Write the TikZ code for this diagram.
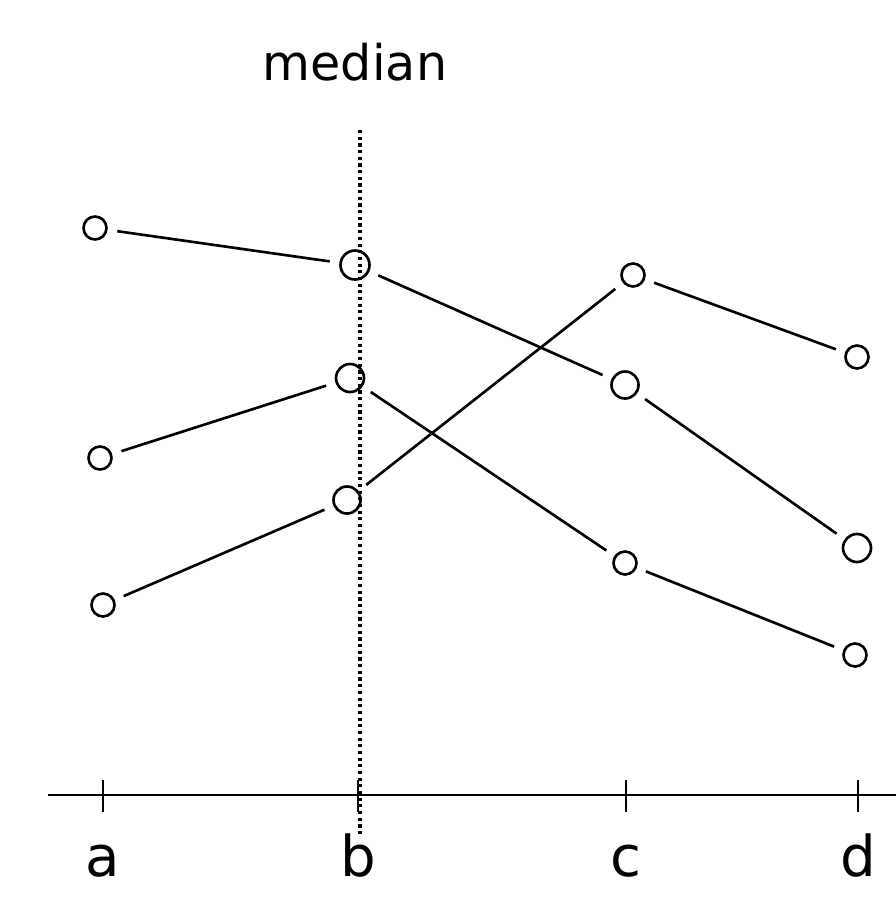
\documentclass[tikz,border=0pt]{standalone}
\usepackage{fontspec}
\setmainfont{DejaVu Sans}
\usetikzlibrary{positioning}

\begin{document}
\begin{tikzpicture}[x=0.02cm,y=-0.02cm,line width=1.5pt,
  pt/.style={draw,circle,inner sep=0pt,minimum size=0.46cm,outer sep=0.22cm},
  tick/.style={font=\fontsize{32}{34}\selectfont}]
\useasboundingbox (0,0) rectangle (896,920);
% axis with ticks
\coordinate (axl) at (48,795);
\coordinate (axr) at (896,795);
\draw (axl) -- (axr);
\foreach \x/\l in {103/a,358/b,626/c,858/d}{
  \draw (\x,780) -- (\x,812);
  \node[tick,anchor=base] (lab\l) at (\x,876) {\l};
}
% median line
\coordinate (mtop) at (360,130);
\coordinate (mbot) at (360,835);
\draw[dotted,line width=1.8pt] (mtop) -- (mbot);
\node[font=\fontsize{28}{30}\selectfont] (med) at (355,62) {median};
% points
\node[pt] (a1) at (95,228) {};
\node[pt] (a2) at (100,458) {};
\node[pt] (a3) at (103,605) {};
\node[pt,minimum size=0.58cm] (b1) at (355,265) {};
\node[pt,minimum size=0.56cm] (b2) at (350,378) {};
\node[pt,minimum size=0.54cm] (b3) at (347,500) {};
\node[pt] (c1) at (633,275) {};
\node[pt,minimum size=0.54cm] (c2) at (625,385) {};
\node[pt] (c3) at (625,563) {};
\node[pt] (d1) at (857,357) {};
\node[pt,minimum size=0.56cm] (d2) at (857,548) {};
\node[pt] (d3) at (855,655) {};
% matches
\draw (a1) -- (b1);
\draw (a2) -- (b2);
\draw (a3) -- (b3);
\draw (b1) -- (c2);
\draw (b2) -- (c3);
\draw (b3) -- (c1);
\draw (c1) -- (d1);
\draw (c2) -- (d2);
\draw (c3) -- (d3);
\end{tikzpicture}
\end{document}
